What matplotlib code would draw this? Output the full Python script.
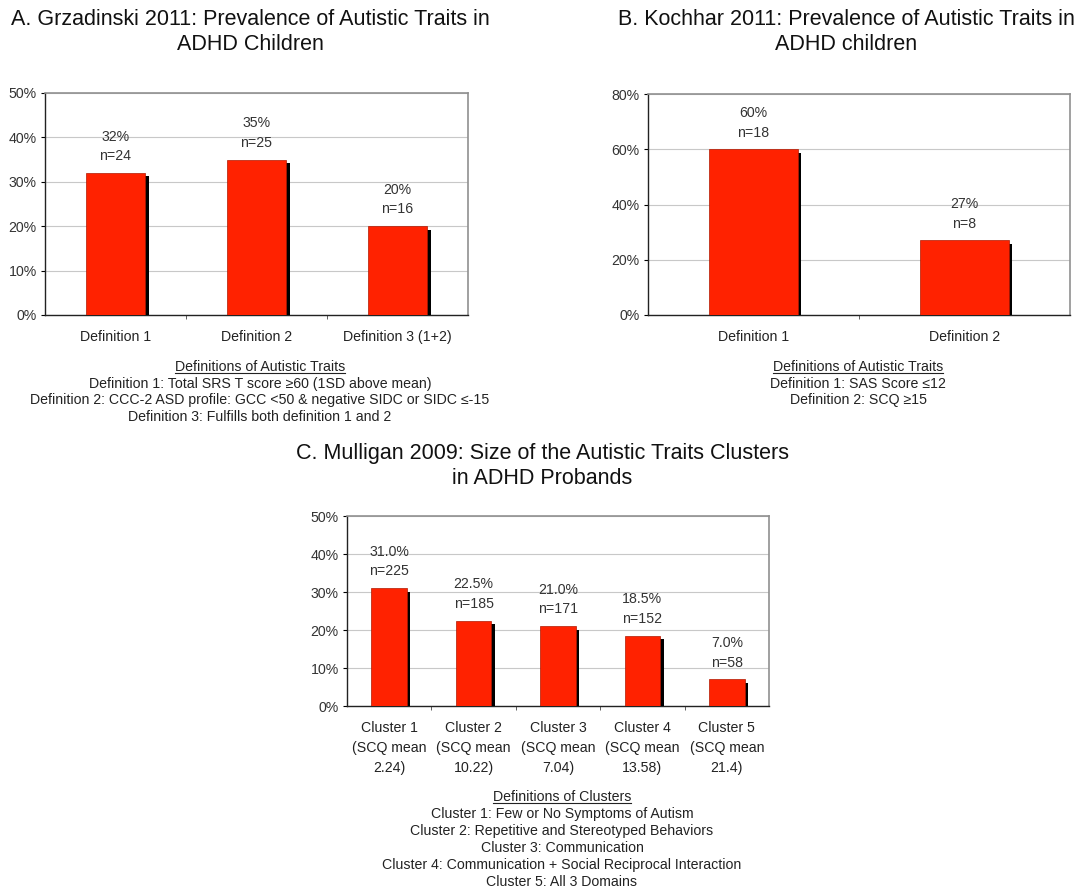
import matplotlib
matplotlib.use('Agg')
import matplotlib.pyplot as plt
import matplotlib.patheffects as pe
import numpy as np

plt.rcParams['font.family'] = ['Liberation Sans', 'DejaVu Sans']

# Panel A: Grzadinski 2011
a_labels = ['Definition 1', 'Definition 2', 'Definition 3 (1+2)']
a_values = [32, 35, 20]
a_n = [24, 25, 16]
a_defs = ['Definition 1: Total SRS T score \u226560 (1SD above mean)',
          'Definition 2: CCC-2 ASD profile: GCC <50 & negative SIDC or SIDC \u2264-15',
          'Definition 3: Fulfills both definition 1 and 2']

# Panel B: Kochhar 2011
b_labels = ['Definition 1', 'Definition 2']
b_values = [60, 27]
b_n = [18, 8]
b_defs = ['Definition 1: SAS Score \u226412',
          'Definition 2: SCQ \u226515']

# Panel C: Mulligan 2009
c_clusters = ['Cluster 1', 'Cluster 2', 'Cluster 3', 'Cluster 4', 'Cluster 5']
c_scq = ['2.24', '10.22', '7.04', '13.58', '21.4']
c_values = [31.0, 22.5, 21.0, 18.5, 7.0]
c_n = [225, 185, 171, 152, 58]
c_defs = ['Cluster 1: Few or No Symptoms of Autism',
          'Cluster 2: Repetitive and Stereotyped Behaviors',
          'Cluster 3: Communication',
          'Cluster 4: Communication + Social Reciprocal Interaction',
          'Cluster 5: All 3 Domains']

W, H = 1082, 893
fig = plt.figure(figsize=(W / 100, H / 100), dpi=100)
BAR = '#ff2200'
FS = 10.2       # small text
TFS = 15.5      # panel titles


def px_axes(x0, y0, x1, y1):
    return fig.add_axes([x0 / W, 1 - y1 / H, (x1 - x0) / W, (y1 - y0) / H])


def bar_panel(ax, labels, values, ns, ymax, step, fmt):
    x = np.arange(len(values))
    bars = ax.bar(x, values, width=0.42, color=BAR, edgecolor='#b01800', linewidth=0.5, zorder=3)
    for b in bars:
        b.set_path_effects([pe.SimplePatchShadow(offset=(2.5, -2.5), shadow_rgbFace='black', alpha=1.0),
                            pe.Normal()])
    for xi, v, n in zip(x, values, ns):
        ax.annotate(fmt.format(v) + '\nn=' + str(n), (xi, v), xytext=(0, 7), textcoords='offset points',
                    ha='center', va='bottom', fontsize=FS, color='#333333', linespacing=1.5)
    ax.set_xlim(-0.5, len(values) - 0.5)
    ax.set_ylim(0, ymax)
    ax.set_yticks(np.arange(0, ymax + 1, step))
    ax.set_yticklabels([f'{int(t)}%' for t in np.arange(0, ymax + 1, step)])
    ax.set_xticks(x)
    ax.set_xticklabels(labels)
    ax.set_xticks(np.arange(0.5, len(values) - 1, 1), minor=True)
    ax.tick_params(axis='x', which='major', length=0, pad=11, labelsize=FS, labelcolor='#222222')
    ax.tick_params(axis='x', which='minor', length=3, direction='out', color='#444444')
    ax.tick_params(axis='y', length=3, direction='out', labelsize=FS, labelcolor='#333333', pad=3)
    ax.yaxis.grid(True, color='#c8c8c8', linewidth=0.8, zorder=0)
    ax.set_axisbelow(True)
    for s in ['top', 'right']:
        ax.spines[s].set_color('#909090')
        ax.spines[s].set_linewidth(1.2)
    for s in ['left', 'bottom']:
        ax.spines[s].set_color('#222222')
        ax.spines[s].set_linewidth(1.0)


def definitions(xc, y0, heading, lines, dy=16.6):
    t = fig.text(xc / W, 1 - y0 / H, heading, ha='center', va='center', fontsize=FS, color='#222222')
    fig.canvas.draw()
    bb = t.get_window_extent()
    fig.add_artist(plt.Line2D([bb.x0 / W, bb.x1 / W], [(bb.y0 + 1.5) / H, (bb.y0 + 1.5) / H],
                              color='#222222', linewidth=0.8))
    for i, line in enumerate(lines):
        fig.text(xc / W, 1 - (y0 + dy * (i + 1)) / H, line, ha='center', va='center',
                 fontsize=FS, color='#222222')


axA = px_axes(45, 93, 468, 315)
bar_panel(axA, a_labels, a_values, a_n, 50, 10, '{:.0f}%')
axB = px_axes(648, 94, 1070, 315)
bar_panel(axB, b_labels, b_values, b_n, 80, 20, '{:.0f}%')
axC = px_axes(347, 516, 769, 706)
c_labels = [f'{c}\n(SCQ mean\n{m})' for c, m in zip(c_clusters, c_scq)]
bar_panel(axC, c_labels, c_values, c_n, 50, 10, '{:.1f}%')
axC.tick_params(axis='x', which='major', pad=11)
for lab in axC.get_xticklabels():
    lab.set_linespacing(1.55)

fig.text(250 / W, 1 - 32 / H, 'A. Grzadinski 2011: Prevalence of Autistic Traits in\nADHD Children',
         ha='center', va='center', fontsize=TFS, linespacing=1.3, color='#111111')
fig.text(846 / W, 1 - 32 / H, 'B. Kochhar 2011: Prevalence of Autistic Traits in\nADHD children',
         ha='center', va='center', fontsize=TFS, linespacing=1.3, color='#111111')
fig.text(542 / W, 1 - 466 / H, 'C. Mulligan 2009: Size of the Autistic Traits Clusters\nin ADHD Probands',
         ha='center', va='center', fontsize=TFS, linespacing=1.25, color='#111111')

definitions(260, 367, 'Definitions of Autistic Traits', a_defs)
definitions(858, 367, 'Definitions of Autistic Traits', b_defs)
definitions(562, 797, 'Definitions of Clusters', c_defs, dy=17.0)

fig.savefig('out.png', dpi=100, facecolor='white')
